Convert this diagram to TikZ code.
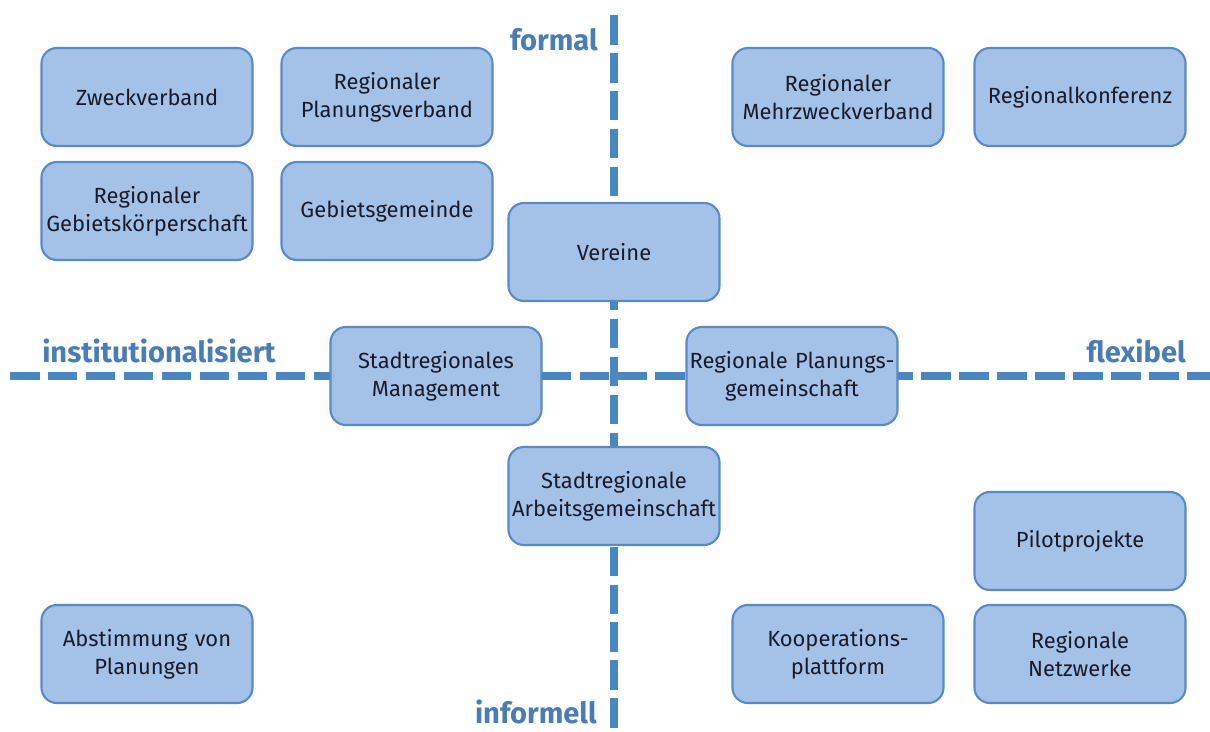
\documentclass[tikz,border=0pt]{standalone}
\usepackage{fontspec}
\setmainfont{Fira Sans}
\usepackage{tikz}
\usetikzlibrary{positioning}

\definecolor{boxfill}{HTML}{A4C2E8}
\definecolor{boxline}{HTML}{5A8AC6}
\definecolor{axisblue}{HTML}{4A86BF}
\definecolor{labelblue}{HTML}{4A7DB5}
\definecolor{boxtext}{HTML}{1A1A2A}

\tikzset{
  orgbox/.style={draw=boxline, line width=1.5pt, fill=boxfill, rounded corners=11pt,
    inner xsep=0pt, text width=5.275cm, minimum height=2.45cm, align=center, text=boxtext,
    font=\fontsize{15.6}{20}\selectfont},
  axisline/.style={axisblue, line width=5.8pt, dash pattern=on 21pt off 6pt},
  axislabel/.style={text=labelblue, font=\fontsize{20.7}{24}\selectfont\bfseries, inner sep=0pt}
}

\begin{document}
\begin{tikzpicture}[x=0.025cm, y=-0.025cm]
\useasboundingbox (0,0) rectangle (1210,731);

% Axes
\coordinate (top) at (614,15);
\coordinate (bottom) at (614,731);
\coordinate (left) at (10,376);
\coordinate (right) at (1210,376);
\draw[axisline] (top) -- (bottom);
\draw[axisline] (left) -- (right);

% Axis labels
\node[axislabel, anchor=base east] (formal) at (598,50) {formal};
\node[axislabel, anchor=base east] (informell) at (597,723) {informell};
\node[axislabel, anchor=base west] (inst) at (42,362) {institutionalisiert};
\node[axislabel, anchor=base east] (flexibel) at (1186,362) {flexibel};

% Upper left
\node[orgbox] (zweck) at (147,97) {Zweckverband};
\node[orgbox] (planv) at (387,97) {Regionaler\\Planungsverband};
\node[orgbox] (gebk) at (147,211) {Regionaler\\Gebietskörperschaft};
\node[orgbox] (gebg) at (387,211) {Gebietsgemeinde};

% Upper right
\node[orgbox] (mehr) at (838,97) {Regionaler\\Mehrzweckverband};
\node[orgbox] (konf) at (1080,97) {Regionalkonferenz};

% Centre
\node[orgbox] (vereine) at (614,252) {Vereine};
\node[orgbox] (mgmt) at (436,376) {Stadtregionales\\Management};
\node[orgbox] (plang) at (792,376) {Regionale Planungs-\\gemeinschaft};
\node[orgbox] (arbg) at (614,496) {Stadtregionale\\Arbeitsgemeinschaft};

% Lower half
\node[orgbox] (abst) at (147,654) {Abstimmung von\\Planungen};
\node[orgbox] (pilot) at (1080,541) {Pilotprojekte};
\node[orgbox] (koop) at (838,654) {Kooperations-\\plattform};
\node[orgbox] (netz) at (1080,654) {Regionale\\Netzwerke};
\end{tikzpicture}
\end{document}
